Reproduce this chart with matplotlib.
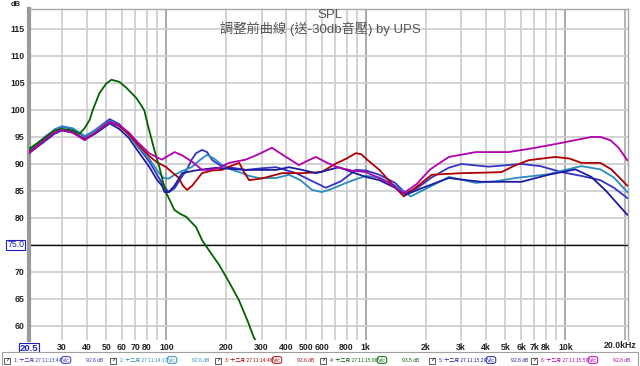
import matplotlib
matplotlib.use("Agg")
import matplotlib.pyplot as plt
from matplotlib.patches import Rectangle

plt.rcParams['font.family'] = ['Liberation Sans', 'Noto Sans CJK TC', 'DejaVu Sans']

# ---- data (Hz, dB) ----
f1 = [20.5, 25, 27.5, 30, 34, 39, 44, 52, 58, 65, 72, 82, 95, 100, 103, 110, 118, 127, 134, 141, 151, 160,
      170, 185, 206, 250, 300, 355, 447, 540, 630, 750, 890, 1000, 1170, 1400, 1585, 1800, 2138, 2600,
      3020, 4121, 6025, 7500, 9550, 12000, 14962, 17500, 20417]
db1 = [92.5, 95.2, 96.3, 96.9, 96.5, 95.0, 96.3, 98.3, 97.4, 95.5, 93.2, 90.5, 86.5, 85.3, 84.8, 85.5, 87.3, 89.0, 90.8,
       92.0, 92.6, 92.2, 90.7, 89.8, 89.4, 88.9, 89.2, 89.4, 88.3, 86.8, 85.6, 86.8, 88.9, 88.8, 88.0, 86.5, 84.6, 85.5,
       87.5, 89.3, 90.0, 89.5, 90.0, 89.6, 88.5, 87.8, 87.0, 85.6, 83.7]

f2 = [20.5, 25, 27.5, 30, 34, 39, 44, 52, 58, 65, 72, 82, 92, 97, 103, 110, 120, 134, 147, 160, 175, 190,
      210, 232, 260, 290, 355, 412, 470, 537, 600, 653, 740, 822, 1000, 1170, 1400, 1680, 2100, 2606,
      3548, 4500, 5623, 8222, 10000, 12023, 15000, 17500, 20417]
db2 = [92.3, 95.0, 96.4, 97.0, 96.6, 95.2, 96.2, 98.0, 97.2, 95.3, 93.3, 91.0, 88.3, 87.4, 87.3, 88.0, 88.7, 89.4,
       90.7, 91.7, 90.9, 89.8, 89.0, 88.5, 87.8, 87.4, 87.4, 88.0, 87.0, 85.2, 84.8, 85.2, 86.0, 86.7, 87.8, 87.5,
       86.0, 84.0, 85.8, 87.6, 86.5, 86.8, 87.4, 88.1, 88.9, 89.6, 89.0, 87.5, 84.8]

f3 = [20.5, 25, 27.5, 30, 34, 39, 44, 52, 58, 65, 72, 82, 89, 100, 108, 115, 121, 127, 135, 151, 170, 190,
      210, 232, 245, 260, 300, 380, 480, 600, 700, 800, 891, 950, 1000, 1170, 1350, 1549, 1800, 2138,
      3020, 4000, 4786, 5500, 6531, 8913, 10500, 12023, 14962, 17000, 20417]
db3 = [92.2, 94.6, 95.8, 96.3, 95.9, 94.6, 95.8, 97.8, 97.0, 95.5, 93.6, 91.5, 90.4, 89.4, 88.3, 87.5, 86.0, 85.2,
       86.0, 88.3, 88.8, 88.9, 89.6, 90.2, 88.5, 87.0, 87.3, 88.3, 88.3, 88.5, 90.0, 91.0, 92.0, 91.8, 91.0,
       88.9, 86.3, 84.0, 85.8, 88.0, 88.3, 88.4, 88.5, 89.6, 90.7, 91.3, 91.0, 90.2, 90.2, 89.0, 86.0]

f4 = [20.5, 25, 27.5, 30, 34, 36.7, 38.9, 41.2, 43, 46.2, 50, 53.1, 58.2, 63.1, 70.8, 75, 77.6, 80.4, 84,
      87.1, 92.3, 96, 100, 105, 109.6, 117, 125.9, 141, 151, 165, 184, 205, 231, 255, 275, 290]
db4 = [92.8, 95.0, 96.2, 96.5, 96.2, 95.6, 96.6, 98.1, 100.2, 103.1, 104.9, 105.6, 105.2, 104.1, 102.2, 100.8, 99.9,
       97.5, 94.8, 92.6, 89.4, 86.8, 84.6, 83.0, 81.5, 80.8, 80.2, 78.3, 75.9, 73.8, 71.3, 68.3, 64.8, 61.0,
       57.8, 56.5]

f5 = [20.5, 25, 27.5, 30, 34, 39, 44, 52, 58, 65, 72, 82, 90, 95, 98, 103, 110, 120, 140, 178, 210, 251, 300,
      355, 412, 480, 562, 650, 733, 850, 1000, 1170, 1400, 1585, 1900, 2606, 3200, 3802, 4800, 6025, 8222,
      11220, 13500, 16000, 20417]
db5 = [92.0, 94.4, 95.6, 96.2, 95.8, 94.5, 95.6, 97.5, 96.5, 94.8, 92.4, 89.5, 87.0, 86.0, 84.8, 84.8, 86.0, 88.3,
       88.8, 89.3, 89.1, 88.9, 88.9, 88.9, 89.4, 88.9, 88.3, 88.9, 89.4, 88.5, 87.6, 87.0, 85.6, 84.3, 85.5, 87.4,
       87.0, 86.7, 86.7, 86.7, 88.0, 89.0, 87.6, 85.0, 80.6]

f6 = [20.5, 25, 27.5, 30, 34, 39, 44, 52, 58, 65, 72, 82, 89, 95, 102, 110, 120, 135, 151, 165, 184, 206,
      250, 290, 338, 390, 462, 510, 562, 640, 733, 850, 1000, 1150, 1300, 1549, 1800, 2100, 2606, 3548,
      5188, 7079, 9550, 11500, 13490, 15000, 16788, 18500, 20417]
db6 = [92.0, 94.6, 95.8, 96.3, 95.8, 94.4, 95.8, 97.8, 97.2, 95.8, 94.0, 92.0, 91.3, 90.8, 91.5, 92.2, 91.6, 90.4,
       88.9, 88.9, 89.3, 90.2, 90.8, 91.8, 93.0, 91.5, 89.8, 90.6, 91.3, 90.2, 89.3, 88.8, 88.5, 87.5, 86.5, 84.6,
       86.3, 89.0, 91.3, 92.2, 92.2, 93.0, 93.9, 94.5, 95.0, 95.0, 94.4, 93.0, 90.7]

series = [(f1, db1), (f2, db2), (f3, db3), (f4, db4), (f5, db5), (f6, db6)]
colors = ['#3434c8', '#2a8cc0', '#b00000', '#006400', '#1c1ca0', '#b000b0']
legend_names = ['1: 十二月 27 11:13:44', '2: 十二月 27 11:14:17', '3: 十二月 27 11:14:46',
                '4: 十二月 27 11:15:06', '5: 十二月 27 11:15:29', '6: 十二月 27 11:15:50']
legend_levels = ['92.6 dB', '92.6 dB', '92.6 dB', '93.5 dB', '92.8 dB', '92.8 dB']

xticks = [30, 40, 50, 60, 70, 80, 100, 200, 300, 400, 500, 600, 800, 1000,
          2000, 3000, 4000, 5000, 6000, 7000, 8000, 10000]
xtick_labels = ['30', '40', '50', '60', '70', '80', '100', '200', '300', '400', '500', '600', '800', '1k',
                '2k', '3k', '4k', '5k', '6k', '7k', '8k', '10k']
grid_freqs = [30, 40, 50, 60, 70, 80, 90, 200, 300, 400, 500, 600, 700, 800, 900,
              2000, 3000, 4000, 5000, 6000, 7000, 8000, 9000]
decades = [100, 1000, 10000]
yticks = [60, 65, 70, 80, 85, 90, 95, 100, 105, 110, 115]
ref_level = 75.0

fig = plt.figure(figsize=(6.4, 3.66), dpi=100)
ax = fig.add_axes([29 / 640, 1 - 340 / 366, 599 / 640, 331 / 366])
ax.set_xscale('log')
ax.set_xlim(20.5, 20600)
ax.set_ylim(57.4, 118.7)

for g in grid_freqs:
    ax.axvline(g, color='#cfcfcf', lw=1.3, zorder=1)
for d in decades:
    ax.axvline(d, color='#a8a8a8', lw=1.4, zorder=1)
ax.axvline(20000, color='#a8a8a8', lw=1.2, zorder=1)
for y in range(60, 120, 5):
    ax.axhline(y, color='#cfcfcf', lw=1.3, zorder=1)
ax.axhline(ref_level, color='#111111', lw=1.0, zorder=2)

for (f, db), c in zip(series, colors):
    ax.plot(f, db, color=c, lw=1.3, zorder=3)

ax.set_xticks(xticks)
ax.set_xticklabels(xtick_labels)
ax.minorticks_off()
ax.set_yticks(yticks)
ax.tick_params(axis='both', length=0, labelsize=6.3, colors='#222222')
ax.tick_params(axis='x', pad=2.5)
ax.tick_params(axis='y', pad=3)
for lab in ax.get_xticklabels() + ax.get_yticklabels():
    lab.set_fontweight('bold')

for s in ['top', 'right']:
    ax.spines[s].set_color('#a8a8a8')
    ax.spines[s].set_linewidth(1.0)
ax.spines['bottom'].set_visible(False)
ax.spines['left'].set_color('#9a9a9a')
ax.spines['left'].set_linewidth(3.0)

# boxed cursor labels and end label
ax.text(-0.008, ref_level, '75.0', transform=ax.get_yaxis_transform(), ha='right', va='center',
        fontsize=6.3, color='#2020c0',
        bbox=dict(boxstyle='square,pad=0.1', fc='white', ec='#2020c0', lw=0.8))
ax.text(20.5, -0.012, '20.5', transform=ax.get_xaxis_transform(), ha='center', va='top',
        fontsize=6.8, color='#2020c0', fontweight='bold',
        bbox=dict(boxstyle='square,pad=0.1', fc='white', ec='#2020c0', lw=0.8))
fig.text(637 / 640, 1 - 345 / 366, '20.0kHz', fontsize=6.3, ha='right', va='center', color='#222222',
         fontweight='bold')

fig.text(16 / 640, 1 - 5 / 366, 'dB', fontsize=5.5, ha='center', va='center', color='#222222',
         fontweight='bold')
fig.text(330 / 640, 1 - 15 / 366, 'SPL', fontsize=9.5, ha='center', va='center', color='#555555')
fig.text(320 / 640, 1 - 29 / 366, '調整前曲線 (送-30db音壓) by UPS', fontsize=9.5, ha='center', va='center',
         color='#555555')

# legend strip
fig.patches.append(Rectangle((2 / 640, 0.5 / 366), 636 / 640, 13.5 / 366, transform=fig.transFigure,
                             fc='white', ec='#a0a0a0', lw=0.8))
starts = [4, 110, 215, 320, 429, 531]
for x0, c, name, lev in zip(starts, colors, legend_names, legend_levels):
    yc = 1 - 360 / 366
    fig.patches.append(Rectangle((x0 / 640, (366 - 364) / 366), 6 / 640, 6 / 366, transform=fig.transFigure,
                                 fc='white', ec='#444444', lw=0.6))
    fig.text((x0 + 1.5) / 640, yc, '✓', fontsize=4.5, ha='left', va='center', color='#222222',
             family=['DejaVu Sans'])
    fig.text((x0 + 10) / 640, yc, name, fontsize=3.6, ha='left', va='center', color=c,
             family=['Noto Sans CJK TC', 'DejaVu Sans'])
    fig.text((x0 + 62) / 640, yc, 'V/c', fontsize=4, ha='center', va='center', color=c,
             bbox=dict(boxstyle='round,pad=0.15,rounding_size=0.4', fc='white', ec=c, lw=0.7))
    fig.text((x0 + 82) / 640, yc, lev, fontsize=3.6, ha='left', va='center', color=c)

fig.savefig('out.png', dpi=100)
